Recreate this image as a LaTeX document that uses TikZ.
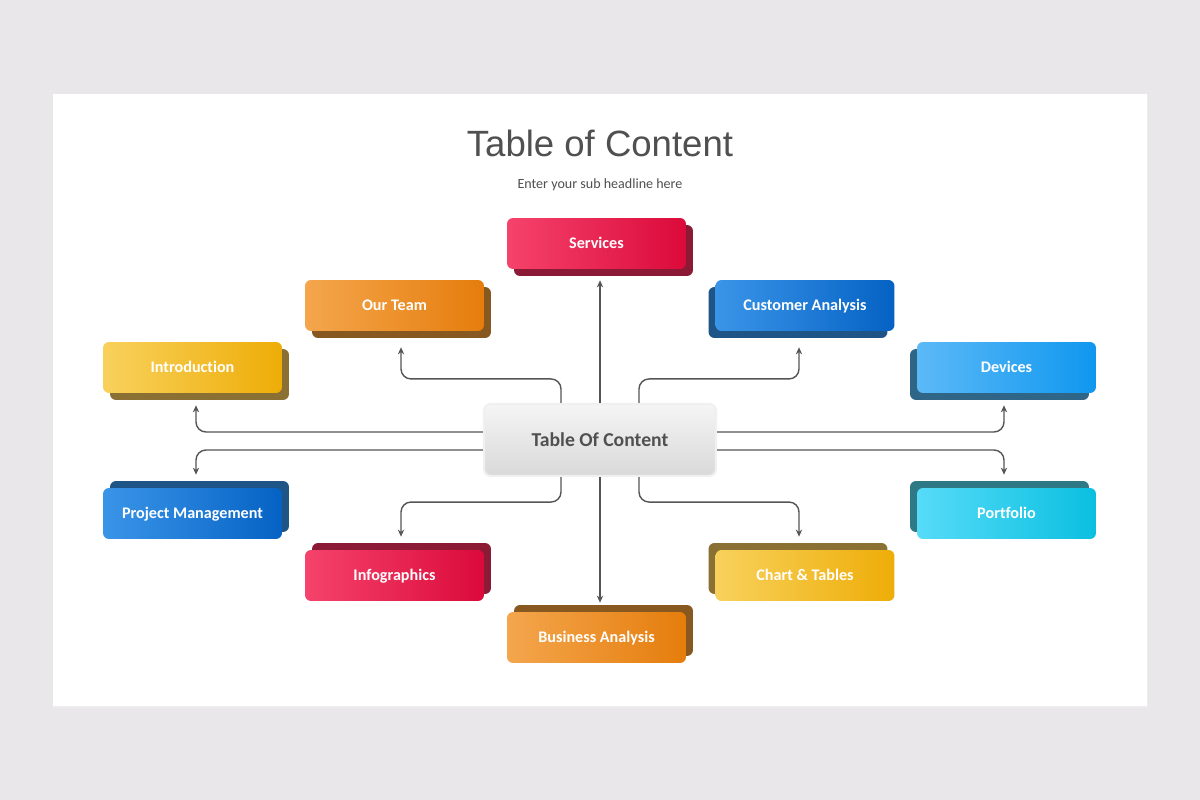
\documentclass[tikz,border=0pt]{standalone}
\usepackage{fontspec}
\setmainfont{Carlito}[Ligatures=NoCommon]
\newfontfamily\headfont{Liberation Sans}
\usetikzlibrary{calc,shadows,arrows.meta}

\definecolor{pagegray}{HTML}{E9E7E9}
\definecolor{textgray}{HTML}{505050}
\definecolor{linkgray}{HTML}{555555}
\definecolor{redA}{HTML}{F5436B}
\definecolor{redB}{HTML}{DB0A3B}
\definecolor{redD}{HTML}{8A1A36}
\definecolor{orangeA}{HTML}{F4A64D}
\definecolor{orangeB}{HTML}{E57D0C}
\definecolor{orangeD}{HTML}{875820}
\definecolor{blueA}{HTML}{3A95E8}
\definecolor{blueB}{HTML}{0562C4}
\definecolor{blueD}{HTML}{1F5487}
\definecolor{yellowA}{HTML}{F8D15C}
\definecolor{yellowB}{HTML}{EEAD08}
\definecolor{yellowD}{HTML}{8A7032}
\definecolor{skyA}{HTML}{5CB9F7}
\definecolor{skyB}{HTML}{0F97EF}
\definecolor{skyD}{HTML}{2F6688}
\definecolor{cyanA}{HTML}{56DBF8}
\definecolor{cyanB}{HTML}{0BBFE0}
\definecolor{cyanD}{HTML}{2F7886}

\begin{document}
\begin{tikzpicture}[x=0.02cm,y=-0.02cm,
  tocbox/.style n args={5}{rounded corners=0.12cm, minimum width=3.58cm,
    minimum height=1.02cm, inner sep=0pt, text=white,
    text height=5.9pt, text depth=0pt,
    font=\bfseries\fontsize{9.2}{11}\selectfont,
    left color=#1, right color=#2,
    copy shadow={draw=none, fill=#3, opacity=1, shadow xshift=#4, shadow yshift=#5}},
  hub/.style={rounded corners=0.14cm, minimum width=4.64cm, minimum height=1.44cm,
    top color=black!4, bottom color=black!15, draw=black!6, line width=1.2pt,
    text height=7.2pt, text depth=0pt, inner sep=0pt,
    text=textgray, font=\bfseries\fontsize{11.2}{13}\selectfont},
  link/.style={draw=linkgray, line width=0.8pt, rounded corners=0.2cm,
    -{Stealth[length=4pt,width=3.6pt]}}]
\useasboundingbox (0,0) rectangle (1200,800);
\fill[pagegray] (0,0) rectangle (1200,800);
\fill[black!7] (53,95) rectangle (1148,708);
\fill[white] (53,94) rectangle (1147,706);

% headline
\node[text=textgray, font=\headfont\fontsize{20.8}{25}\selectfont] (title) at (600,143) {Table of Content};
\node[text=textgray, font=\fontsize{8}{10}\selectfont] (subtitle) at (600,185) {Enter your sub headline here};

% topic boxes
\node[tocbox={redA}{redB}{redD}{0.14cm}{-0.14cm}] (services) at (596.5,243.5) {Services};
\node[tocbox={orangeA}{orangeB}{orangeD}{0.14cm}{-0.14cm}] (team) at (394.5,305.5) {Our Team};
\node[tocbox={blueA}{blueB}{blueD}{-0.14cm}{-0.14cm}] (customer) at (805,305.5) {Customer Analysis};
\node[tocbox={yellowA}{yellowB}{yellowD}{0.14cm}{-0.14cm}] (intro) at (192.5,367.5) {Introduction};
\node[tocbox={skyA}{skyB}{skyD}{-0.14cm}{-0.14cm}] (devices) at (1006.5,367.5) {Devices};
\node[tocbox={blueA}{blueB}{blueD}{0.14cm}{0.14cm}] (project) at (192.5,513.5) {Project Management};
\node[tocbox={cyanA}{cyanB}{cyanD}{-0.14cm}{0.14cm}] (portfolio) at (1006.5,513.5) {Portfolio};
\node[tocbox={redA}{redB}{redD}{0.14cm}{0.14cm}] (info) at (394.5,575.5) {Infographics};
\node[tocbox={yellowA}{yellowB}{yellowD}{-0.14cm}{0.14cm}] (chart) at (805,575.5) {Chart \& Tables};
\node[tocbox={orangeA}{orangeB}{orangeD}{0.14cm}{0.14cm}] (business) at (596.5,637.5) {Business Analysis};

% hub
\node[hub] (toc) at (600,440) {Table Of Content};

% links
\draw[link, shorten >=0.22cm] (toc.north) -- (toc.north |- services.south);
\draw[link, shorten >=0.32cm] ($(toc.north)+(-39,0)$) -- ++(0,-24) -| ($(team.south)+(6.5,0)$);
\draw[link, shorten >=0.32cm] ($(toc.north)+(39,0)$) -- ++(0,-24) -| ($(customer.south)+(-6,0)$);
\draw[link, shorten >=0.24cm] ($(toc.west)+(0,-8)$) -| ($(intro.south)+(3.5,0)$);
\draw[link, shorten >=0.24cm] ($(toc.east)+(0,-8)$) -| ($(devices.south)+(-2.5,0)$);
\draw[link, shorten >=0.26cm] ($(toc.west)+(0,10)$) -| ($(project.north)+(3.5,0)$);
\draw[link, shorten >=0.26cm] ($(toc.east)+(0,10)$) -| ($(portfolio.north)+(-2.5,0)$);
\draw[link, shorten >=0.26cm] ($(toc.south)+(-39,0)$) -- ++(0,25) -| ($(info.north)+(6.5,0)$);
\draw[link, shorten >=0.26cm] ($(toc.south)+(39,0)$) -- ++(0,25) -| ($(chart.north)+(-6,0)$);
\draw[link, shorten >=0.18cm] (toc.south) -- (toc.south |- business.north);
\end{tikzpicture}
\end{document}
